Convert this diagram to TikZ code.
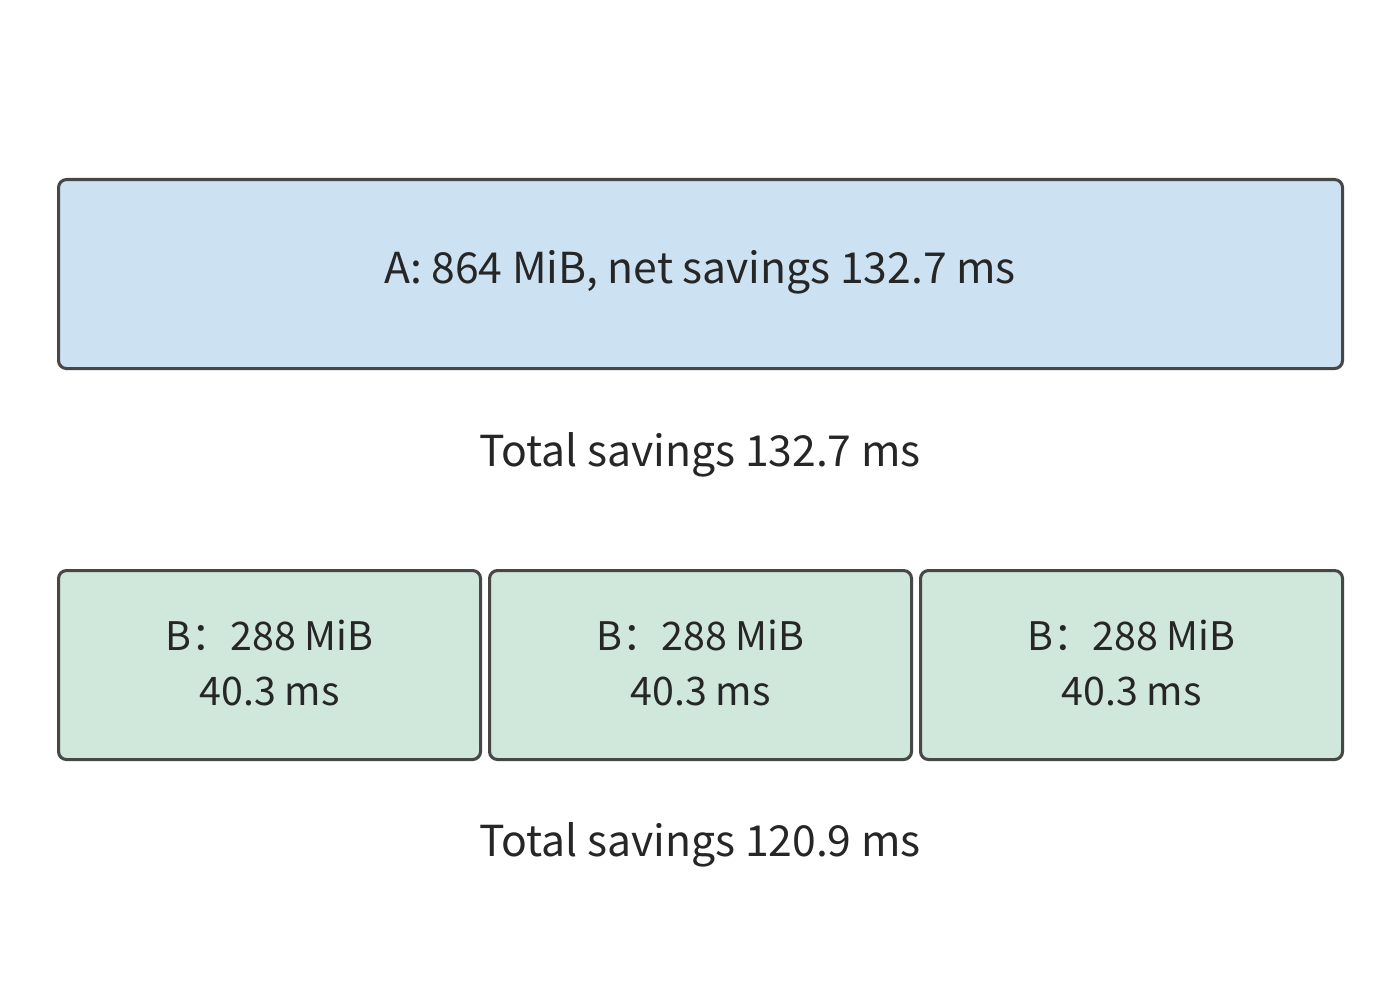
\documentclass[tikz,border=0pt]{standalone}
\usepackage{fontspec}
\setmainfont{Noto Sans CJK SC}
\begin{document}
\begin{tikzpicture}[x=0.75pt,y=-0.75pt,
  box/.style={draw=boxline,line width=2.3pt,rounded corners=6pt,inner sep=0pt,anchor=north west},
  lbl/.style={font=\fontsize{32}{40}\selectfont,text=txt,align=center},
  blbl/.style={font=\fontsize{29.5}{41.5}\selectfont,text=txt,align=center}]
\definecolor{boxline}{HTML}{474747}
\definecolor{blueA}{HTML}{CCE2F2}
\definecolor{greenB}{HTML}{D0E7DC}
\definecolor{txt}{HTML}{262626}
\useasboundingbox[fill=white] (0,0) rectangle (1400,988);
\node[box,fill=blueA,minimum width=1284*0.75pt,minimum height=189*0.75pt] (A) at (57,178) {};
\node[lbl] (At) at (700,272.5) {A: 864 MiB, net savings 132.7 ms};
\node[lbl] (T1) at (700,455) {Total savings 132.7 ms};
\node[box,fill=greenB,minimum width=422*0.75pt,minimum height=189*0.75pt] (B1) at (57,569) {};
\node[box,fill=greenB,minimum width=422*0.75pt,minimum height=189*0.75pt] (B2) at (488,569) {};
\node[box,fill=greenB,minimum width=422*0.75pt,minimum height=189*0.75pt] (B3) at (919,569) {};
\node[blbl] (B1t) at ([yshift=1.6pt]B1.center) {B：288 MiB\\40.3 ms};
\node[blbl] (B2t) at ([yshift=1.6pt]B2.center) {B：288 MiB\\40.3 ms};
\node[blbl] (B3t) at ([yshift=1.6pt]B3.center) {B：288 MiB\\40.3 ms};
\node[lbl] (T2) at (700,845) {Total savings 120.9 ms};
\end{tikzpicture}
\end{document}
